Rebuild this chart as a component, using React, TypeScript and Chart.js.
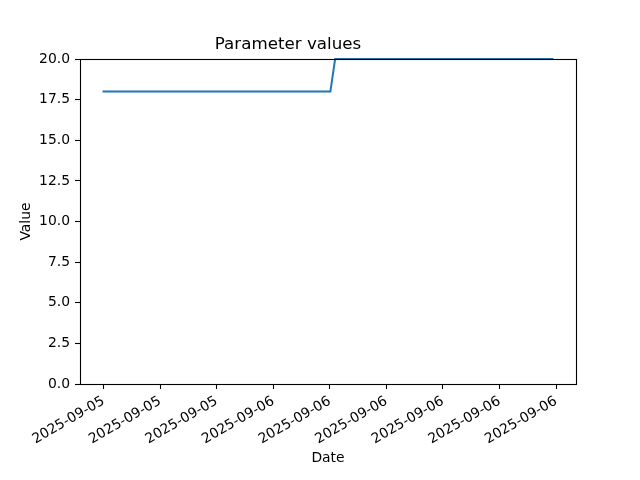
import { useEffect, useRef } from "react";
import { Chart, registerables } from "chart.js";

Chart.register(...registerables);

// Sample times: minutes relative to 2025-09-05 15:00
const startMinute = -3;
const sampleStepMinutes = 15.1;

const parameterValues = [
  18, 18, 18, 18, 18, 18, 18, 18, 18, 18, 18, 18, 18, 18, 18, 18, 18, 18, 18, 18,
  18, 18, 18, 18, 18, 18, 18, 18, 18, 18, 18, 18, 18, 18, 18, 18, 18, 18, 18, 18,
  18, 18, 18, 18, 18, 18, 18, 18, 18,
  20, 20, 20, 20, 20, 20, 20, 20, 20, 20, 20, 20, 20, 20, 20, 20, 20, 20, 20, 20,
  20, 20, 20, 20, 20, 20, 20, 20, 20, 20, 20, 20, 20, 20, 20, 20, 20, 20, 20, 20,
  20, 20, 20, 20, 20, 20, 20,
];

const tickMinutes = [0, 180, 360, 540, 720, 900, 1080, 1260, 1440];
const tickLabels = [
  "2025-09-05",
  "2025-09-05",
  "2025-09-05",
  "2025-09-06",
  "2025-09-06",
  "2025-09-06",
  "2025-09-06",
  "2025-09-06",
  "2025-09-06",
];

const FONT = "'DejaVu Sans', sans-serif";

const framePlugin = {
  id: "frame",
  afterDraw(chart: any) {
    const { ctx, chartArea } = chart;
    const { left, top, right, bottom } = chartArea;
    ctx.save();
    ctx.strokeStyle = "#000";
    ctx.lineWidth = 1.1;
    ctx.strokeRect(Math.round(left) + 0.5, Math.round(top) + 0.5, Math.round(right - left), Math.round(bottom - top));
    ctx.restore();
  },
};

export default function App() {
  const canvasRef = useRef<HTMLCanvasElement>(null);

  useEffect(() => {
    if (!canvasRef.current) return;
    const points = parameterValues.map((v, i) => ({ x: startMinute + i * sampleStepMinutes, y: v }));
    const xFirst = points[0].x;
    const xLast = points[points.length - 1].x;
    const pad = (xLast - xFirst) * 0.05;

    const chart = new Chart(canvasRef.current, {
      type: "line",
      data: {
        datasets: [
          {
            label: "Parameter",
            data: points,
            borderColor: "#1f77b4",
            borderWidth: 2,
            pointRadius: 0,
            tension: 0,
            fill: false,
            clip: false,
          },
        ],
      },
      options: {
        animation: false,
        responsive: false,
        devicePixelRatio: 1,
        layout: { padding: { left: 0, right: 64, top: 0, bottom: 0 } },
        plugins: {
          legend: { display: false },
          tooltip: { enabled: false },
          title: {
            display: true,
            text: "Parameter values",
            color: "#000",
            font: { family: FONT, size: 16.7, weight: "normal" },
            padding: { top: 35, bottom: 4 },
          },
        },
        scales: {
          x: {
            type: "linear",
            min: xFirst - pad,
            max: xLast + pad,
            afterFit: (scale: any) => {
              scale.height = 96;
            },
            afterBuildTicks: (scale: any) => {
              scale.ticks = tickMinutes.map((v) => ({ value: v }));
            },
            border: { display: false },
            grid: {
              display: true,
              drawOnChartArea: false,
              drawTicks: true,
              tickLength: 5,
              tickColor: "#000",
              tickWidth: 1.1,
            },
            ticks: {
              color: "#000",
              font: { family: FONT, size: 13.9 },
              padding: 4,
              minRotation: 30,
              maxRotation: 30,
              autoSkip: false,
              callback: (value: any) => {
                const idx = tickMinutes.indexOf(Number(value));
                return idx >= 0 ? tickLabels[idx] : "";
              },
            },
            title: {
              display: true,
              text: "Date",
              color: "#000",
              font: { family: FONT, size: 13.9 },
              padding: { top: 0, bottom: 13 },
            },
          },
          y: {
            type: "linear",
            min: 0,
            max: 20,
            afterFit: (scale: any) => {
              scale.width = 80;
            },
            border: { display: false },
            grid: {
              display: true,
              drawOnChartArea: false,
              drawTicks: true,
              tickLength: 5,
              tickColor: "#000",
              tickWidth: 1.1,
            },
            ticks: {
              stepSize: 2.5,
              color: "#000",
              font: { family: FONT, size: 13.9 },
              padding: 5,
              callback: (value: any) => Number(value).toFixed(1),
            },
            title: {
              display: true,
              text: "Value",
              color: "#000",
              font: { family: FONT, size: 13.9 },
              padding: { top: 18, bottom: 0 },
            },
          },
        },
      },
      plugins: [framePlugin],
    });
    return () => chart.destroy();
  }, []);

  return (
    <div style={{ position: "absolute", left: 0, top: 0, width: 640, height: 480, background: "#fff" }}>
      <canvas ref={canvasRef} width={640} height={480} style={{ width: 640, height: 480 }} />
    </div>
  );
}
